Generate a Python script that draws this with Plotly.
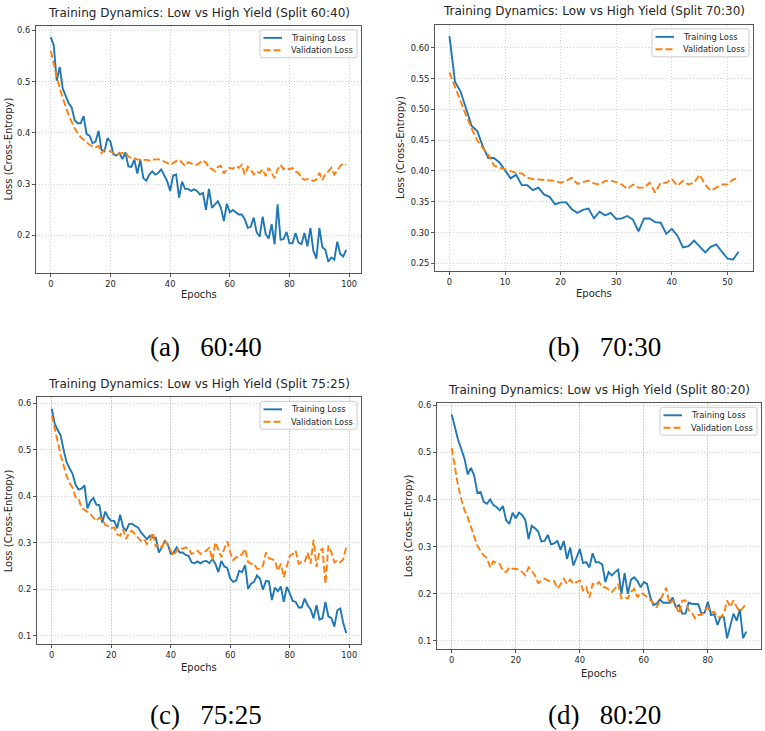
import plotly.graph_objects as go

# ---------------- data ----------------
TRAIN_A = [0.587,0.571,0.502,0.529,0.487,0.471,0.458,0.450,0.425,0.419,
           0.419,0.433,0.398,0.395,0.380,0.383,0.404,0.367,0.364,0.390,
           0.383,0.358,0.356,0.361,0.349,0.362,0.335,0.334,0.348,0.321,
           0.348,0.312,0.307,0.319,0.325,0.319,0.322,0.329,0.316,0.306,
           0.287,0.317,0.319,0.274,0.305,0.291,0.291,0.287,0.290,0.287,
           0.280,0.283,0.250,0.291,0.254,0.261,0.267,0.254,0.228,0.262,
           0.245,0.250,0.246,0.241,0.241,0.232,0.215,0.217,0.235,0.206,
           0.198,0.237,0.203,0.194,0.222,0.183,0.261,0.192,0.193,0.207,
           0.185,0.185,0.205,0.186,0.183,0.205,0.179,0.215,0.170,0.155,
           0.215,0.177,0.172,0.149,0.157,0.153,0.188,0.164,0.159,0.172]
VAL_A = [0.560,0.532,0.510,0.487,0.468,0.451,0.435,0.422,0.409,0.400,
         0.392,0.387,0.382,0.377,0.374,0.372,0.375,0.361,0.367,0.367,
         0.364,0.361,0.356,0.360,0.361,0.362,0.354,0.351,0.351,0.348,
         0.348,0.347,0.348,0.346,0.349,0.348,0.349,0.347,0.344,0.342,
         0.338,0.342,0.345,0.348,0.342,0.336,0.343,0.340,0.338,0.338,
         0.343,0.347,0.342,0.332,0.330,0.325,0.334,0.336,0.321,0.329,
         0.332,0.330,0.336,0.332,0.338,0.319,0.334,0.329,0.319,0.325,
         0.322,0.329,0.316,0.332,0.322,0.312,0.329,0.338,0.329,0.332,
         0.329,0.332,0.325,0.322,0.312,0.309,0.310,0.309,0.306,0.309,
         0.322,0.308,0.321,0.325,0.332,0.319,0.327,0.336,0.340,0.338]

TRAIN_B = [0.619,0.545,0.529,0.501,0.473,0.465,0.440,0.421,0.421,0.414,
           0.402,0.388,0.394,0.377,0.377,0.369,0.373,0.362,0.358,0.346,
           0.349,0.349,0.338,0.332,0.337,0.339,0.323,0.334,0.328,0.332,
           0.322,0.323,0.327,0.321,0.302,0.323,0.323,0.317,0.316,0.298,
           0.306,0.295,0.276,0.278,0.287,0.278,0.268,0.277,0.281,0.269,
           0.258,0.256,0.269]
VAL_B = [0.560,0.536,0.512,0.490,0.469,0.450,0.437,0.426,0.409,0.405,
         0.403,0.400,0.397,0.396,0.389,0.387,0.386,0.385,0.385,0.384,
         0.381,0.384,0.389,0.379,0.382,0.384,0.380,0.378,0.384,0.384,
         0.382,0.378,0.371,0.378,0.373,0.373,0.381,0.365,0.381,0.381,
         0.387,0.376,0.384,0.378,0.381,0.394,0.378,0.368,0.373,0.378,
         0.378,0.386,0.389]

TRAIN_C = [0.588,0.556,0.542,0.531,0.499,0.473,0.460,0.448,0.425,0.414,
           0.416,0.423,0.374,0.389,0.396,0.382,0.381,0.343,0.367,0.354,
           0.347,0.347,0.331,0.360,0.333,0.326,0.340,0.341,0.336,0.333,
           0.322,0.315,0.308,0.315,0.311,0.311,0.279,0.290,0.304,0.297,
           0.276,0.279,0.290,0.279,0.279,0.274,0.272,0.258,0.256,0.260,
           0.256,0.260,0.261,0.256,0.265,0.255,0.237,0.261,0.249,0.246,
           0.223,0.216,0.219,0.240,0.237,0.252,0.201,0.212,0.216,0.230,
           0.223,0.199,0.218,0.217,0.177,0.204,0.196,0.206,0.173,0.205,
           0.192,0.175,0.173,0.161,0.161,0.180,0.166,0.157,0.138,0.166,
           0.135,0.138,0.173,0.142,0.138,0.120,0.155,0.159,0.127,0.106]
VAL_C = [0.574,0.542,0.517,0.489,0.467,0.443,0.428,0.418,0.398,0.396,
         0.375,0.370,0.365,0.362,0.354,0.347,0.354,0.350,0.338,0.336,
         0.331,0.333,0.318,0.315,0.329,0.308,0.322,0.326,0.318,0.311,
         0.304,0.308,0.297,0.304,0.322,0.291,0.297,0.290,0.306,0.294,
         0.283,0.272,0.283,0.290,0.287,0.290,0.287,0.276,0.279,0.283,
         0.276,0.279,0.283,0.290,0.262,0.301,0.283,0.269,0.287,0.303,
         0.279,0.263,0.269,0.269,0.276,0.287,0.258,0.255,0.255,0.244,
         0.244,0.251,0.279,0.267,0.265,0.262,0.240,0.255,0.226,0.251,
         0.272,0.276,0.283,0.255,0.258,0.258,0.279,0.255,0.306,0.248,
         0.283,0.287,0.212,0.294,0.279,0.258,0.262,0.258,0.265,0.291]

TRAIN_D = [0.580,0.554,0.526,0.507,0.486,0.453,0.467,0.451,0.414,0.416,
           0.395,0.391,0.400,0.388,0.384,0.377,0.386,0.356,0.348,0.372,
           0.360,0.372,0.367,0.356,0.316,0.344,0.339,0.332,0.311,0.312,
           0.325,0.305,0.307,0.312,0.293,0.312,0.274,0.298,0.260,0.277,
           0.295,0.265,0.267,0.256,0.286,0.267,0.267,0.262,0.225,0.246,
           0.239,0.246,0.251,0.200,0.244,0.200,0.230,0.235,0.227,0.214,
           0.225,0.221,0.193,0.176,0.179,0.188,0.181,0.181,0.181,0.192,
           0.172,0.176,0.158,0.158,0.181,0.179,0.179,0.178,0.158,0.160,
           0.183,0.155,0.157,0.134,0.151,0.150,0.106,0.134,0.158,0.143,
           0.167,0.106,0.120]
VAL_D = [0.509,0.467,0.428,0.400,0.377,0.362,0.341,0.319,0.302,0.291,
         0.281,0.276,0.256,0.269,0.265,0.263,0.249,0.246,0.256,0.253,
         0.253,0.251,0.246,0.239,0.256,0.249,0.239,0.223,0.227,0.232,
         0.228,0.228,0.227,0.211,0.220,0.232,0.221,0.230,0.221,0.225,
         0.228,0.207,0.214,0.192,0.221,0.218,0.225,0.214,0.214,0.209,
         0.204,0.211,0.221,0.190,0.193,0.190,0.204,0.211,0.193,0.202,
         0.199,0.193,0.186,0.181,0.171,0.186,0.200,0.213,0.179,0.186,
         0.176,0.158,0.185,0.186,0.165,0.160,0.148,0.155,0.155,0.165,
         0.171,0.160,0.162,0.150,0.151,0.158,0.186,0.172,0.186,0.172,
         0.162,0.171,0.179]

SPLITS = ["60:40", "70:30", "75:25", "80:20"]
LETTERS = ["a", "b", "c", "d"]
SERIES_NAMES = ["Training Loss", "Validation Loss"]
TRAIN = [TRAIN_A, TRAIN_B, TRAIN_C, TRAIN_D]
VAL = [VAL_A, VAL_B, VAL_C, VAL_D]
X_TICKS = [[0, 20, 40, 60, 80, 100], [0, 10, 20, 30, 40, 50],
           [0, 20, 40, 60, 80, 100], [0, 20, 40, 60, 80]]
Y_TICKS = [[0.2, 0.3, 0.4, 0.5, 0.6],
           [0.25, 0.30, 0.35, 0.40, 0.45, 0.50, 0.55, 0.60],
           [0.1, 0.2, 0.3, 0.4, 0.5, 0.6],
           [0.1, 0.2, 0.3, 0.4, 0.5, 0.6]]
Y_FMT = [".1f", ".2f", ".1f", ".1f"]

# ---------------- layout geometry (pixels) ----------------
W, H = 765, 731
BOX = [(36, 361, 23, 271), (435, 753, 22, 269), (37, 361, 396, 644), (437, 761, 402, 649)]
TITLE_Y = [10, 8, 383, 389]
XLAB_Y = [293, 292, 667, 673]
YLAB_X = [8, 401, 8.5, 408]
CAP_POS = [(206, 345), (604, 345), (206, 715), (604, 715)]
LEG_W, LEG_H = 97, 28

BLUE = "#1f77b4"
ORANGE = "#ff7f0e"
FONT = "DejaVu Sans"
DASH = "7px,3px"
TXT = "#262626"


def px(x):
    return x / W


def py(y):
    return 1 - y / H


def rounded_rect(l, t, r, b, rad):
    # path in paper coordinates from pixel box
    pts = []
    pts.append(f"M {px(l + rad)},{py(t)}")
    pts.append(f"L {px(r - rad)},{py(t)}")
    pts.append(f"Q {px(r)},{py(t)} {px(r)},{py(t + rad)}")
    pts.append(f"L {px(r)},{py(b - rad)}")
    pts.append(f"Q {px(r)},{py(b)} {px(r - rad)},{py(b)}")
    pts.append(f"L {px(l + rad)},{py(b)}")
    pts.append(f"Q {px(l)},{py(b)} {px(l)},{py(b - rad)}")
    pts.append(f"L {px(l)},{py(t + rad)}")
    pts.append(f"Q {px(l)},{py(t)} {px(l + rad)},{py(t)}")
    return " ".join(pts) + " Z"


fig = go.Figure()
annotations = []
shapes = []
layout = dict(width=W, height=H, margin=dict(l=0, r=0, t=0, b=0),
              paper_bgcolor="white", plot_bgcolor="white", showlegend=False,
              font=dict(family=FONT, color=TXT))

for i in range(4):
    n = "" if i == 0 else str(i + 1)
    ep = list(range(len(TRAIN[i])))
    fig.add_trace(go.Scatter(x=ep, y=TRAIN[i], mode="lines", name=SERIES_NAMES[0],
                             line=dict(color=BLUE, width=1.9),
                             xaxis="x" + n, yaxis="y" + n))
    fig.add_trace(go.Scatter(x=ep, y=VAL[i], mode="lines", name=SERIES_NAMES[1],
                             line=dict(color=ORANGE, width=1.9, dash=DASH),
                             xaxis="x" + n, yaxis="y" + n))

    allv = TRAIN[i] + VAL[i]
    lo, hi = min(allv), max(allv)
    sp = hi - lo
    xmax = len(ep) - 1
    x0, x1, y0, y1 = BOX[i]
    axis_common = dict(showline=True, mirror=True, linecolor="#555555", linewidth=1.2,
                       ticks="outside", ticklen=3, tickwidth=1, tickcolor="#555555",
                       showgrid=True, gridcolor="#cfcfcf", griddash="1.2px,1.8px", gridwidth=0.8,
                       zeroline=False, tickfont=dict(size=8.3, family=FONT, color=TXT))
    layout["xaxis" + n] = dict(axis_common, domain=[px(x0), px(x1)],
                               range=[-0.05 * xmax, xmax * 1.05],
                               tickvals=X_TICKS[i], anchor="y" + n)
    layout["yaxis" + n] = dict(axis_common, domain=[py(y1), py(y0)],
                               range=[lo - 0.05 * sp, hi + 0.05 * sp],
                               tickvals=Y_TICKS[i], tickformat=Y_FMT[i], anchor="x" + n)

    # legend box (upper right, matplotlib style)
    lr = x1 - 4
    ll = lr - LEG_W
    lt = y0 + 4
    lb = lt + LEG_H
    shapes.append(dict(type="path", path=rounded_rect(ll, lt, lr, lb, 2.5),
                       xref="paper", yref="paper", fillcolor="rgba(255,255,255,0.85)",
                       line=dict(color="#cccccc", width=1), layer="above"))
    for k, (col, dash) in enumerate([(BLUE, "solid"), (ORANGE, DASH)]):
        yy = lt + 8 + k * 12.5
        shapes.append(dict(type="line", xref="paper", yref="paper",
                           x0=px(ll + 3.5), x1=px(ll + 22), y0=py(yy), y1=py(yy),
                           line=dict(color=col, width=1.9, dash=dash), layer="above"))
        annotations.append(dict(text=SERIES_NAMES[k], x=px(ll + 29), y=py(yy),
                                xref="paper", yref="paper", xanchor="left", yanchor="middle",
                                showarrow=False, font=dict(size=8.3, family=FONT, color=TXT)))

    cx = (x0 + x1) / 2
    annotations.append(dict(text=f"Training Dynamics: Low vs High Yield (Split {SPLITS[i]})",
                            x=px(cx), y=py(TITLE_Y[i]), xref="paper", yref="paper",
                            xanchor="center", yanchor="middle", showarrow=False,
                            font=dict(size=12, family=FONT, color=TXT)))
    annotations.append(dict(text="Epochs", x=px(cx), y=py(XLAB_Y[i]), xref="paper", yref="paper",
                            xanchor="center", yanchor="middle", showarrow=False,
                            font=dict(size=10, family=FONT, color=TXT)))
    annotations.append(dict(text="Loss (Cross-Entropy)", x=px(YLAB_X[i]), y=py((y0 + y1) / 2),
                            xref="paper", yref="paper", textangle=-90,
                            xanchor="center", yanchor="middle", showarrow=False,
                            font=dict(size=10, family=FONT, color=TXT)))
    cxp, cyp = CAP_POS[i]
    annotations.append(dict(text=f"({LETTERS[i]})\u00a0\u00a0\u00a0{SPLITS[i]}",
                            x=px(cxp), y=py(cyp), xref="paper", yref="paper",
                            xanchor="center", yanchor="middle", showarrow=False,
                            font=dict(size=27, family="Liberation Serif", color="black")))

layout["annotations"] = annotations
layout["shapes"] = shapes
fig.update_layout(**layout)
fig.write_html("out.html")
